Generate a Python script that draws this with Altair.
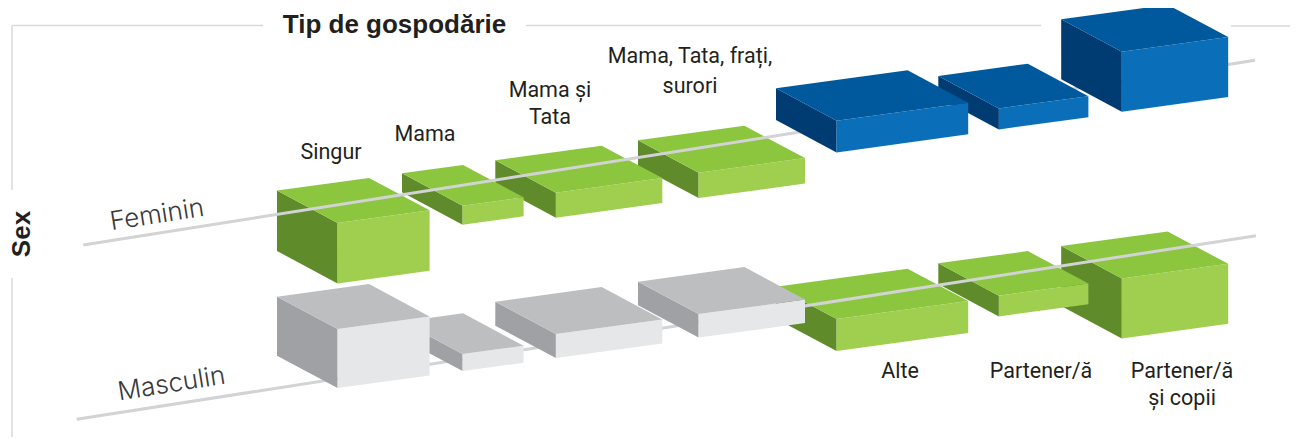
import altair as alt
import pandas as pd

W, H = 1290, 439
categories = ["Singur", "Mama", "Mama și Tata", "Mama, Tata, frați, surori", "Alte", "Partener/ă", "Partener/ă și copii"]
box_x = [277, 402, 495.3, 638, 776, 938.3, 1061.2]
box_w = [92, 61, 106.4, 106.4, 131.6, 89.5, 106.4]
fem_y = [190.5, 173.3, 160.3, 140.3, 88.3, 76, 19.3]
fem_h = [60.5, 19, 25, 25.4, 31.7, 21, 60]
mas_y = [296.7, 321.7, 301.7, 281.7, 286.7, 263.3, 246]
mas_h = [59, 17, 24, 23.5, 32, 20.7, 60]
fem_color = ["green"] * 4 + ["blue"] * 3
mas_color = ["gray"] * 4 + ["green"] * 3
DEPTH_X, DEPTH_Y, SLOPE = 60.6, 32.4, -0.137

palette = {
    "green": {"top": "#8cc63f", "left": "#5f8b2b", "right": "#a0cf50"},
    "blue": {"top": "#00599c", "left": "#003b71", "right": "#0a6fb8"},
    "gray": {"top": "#bcbec0", "left": "#9fa1a4", "right": "#e6e7e8"},
}


def faces(sex, i, x, y, w, h, scheme):
    bx, by = x + w, y + w * SLOPE
    fx, fy = x + DEPTH_X, y + DEPTH_Y
    rx, ry = bx + DEPTH_X, by + DEPTH_Y
    polys = {
        "left": [(x, y), (fx, fy), (fx, fy + h), (x, y + h)],
        "right": [(fx, fy), (rx, ry), (rx, ry + h), (fx, fy + h)],
        "top": [(x, y), (bx, by), (rx, ry), (fx, fy)],
    }
    rows = []
    for face, pts in polys.items():
        for k, (px, py) in enumerate(pts + pts[:1]):
            rows.append({"poly": f"{sex}-{i}-{face}", "k": k, "x": px, "y": py,
                         "fill": palette[scheme][face], "scheme": scheme})
    return rows


def boxes(sex, ys, hs, colors, scheme):
    rows = []
    for i in reversed(range(len(categories))):
        if colors[i] == scheme:
            rows += faces(sex, i, box_x[i], ys[i], box_w[i], hs[i], scheme)
    return pd.DataFrame(rows)


xs = alt.X("x:Q", scale=alt.Scale(domain=[8, W], nice=False, zero=False), axis=None)
ys = alt.Y("y:Q", scale=alt.Scale(domain=[8, H], nice=False, zero=False, reverse=True), axis=None)


def poly_layer(df):
    return alt.Chart(df).mark_line(strokeWidth=0, clip=False, interpolate="linear").encode(
        x=xs, y=ys, order="k:Q", detail="poly:N",
        fill=alt.Fill("fill:N", scale=None),
    )


def rule_layer(df, color, width):
    return alt.Chart(df).mark_line(stroke=color, strokeWidth=width, clip=False, strokeCap="butt").encode(
        x=xs, y=ys, detail="id:N", order="k:Q")


def seg(pairs):
    rows = []
    for n, (a, b) in enumerate(pairs):
        rows.append({"id": n, "k": 0, "x": a[0], "y": a[1]})
        rows.append({"id": n, "k": 1, "x": b[0], "y": b[1]})
    return pd.DataFrame(rows)


frame_segments = [((12, 25.5), (263, 25.5)), ((526, 25.5), (1041, 25.5)), ((1231, 26), (1290, 26)),
                  ((12, 25.5), (12, 190)), ((12, 278), (12, 437))]
fem_axis = [((83.3, 245), (1255, 60.3))]
mas_axis = [((76.7, 419.3), (1256, 235.7))]

label_text = ["Singur", "Mama", "Mama și", "Tata", "Mama, Tata, frați,", "surori", "Alte", "Partener/ă", "Partener/ă", "și copii"]
label_x = [331, 425, 550, 550, 690, 690, 900, 1041, 1182, 1182]
label_y = [153, 135, 91, 118, 57, 87, 372, 372, 372, 399]

labels = alt.Chart(pd.DataFrame({"t": label_text, "x": label_x, "y": label_y})).mark_text(
    font="Roboto", fontSize=21.5, color="#231f20", align="center", baseline="middle", clip=False
).encode(x=xs, y=ys, text="t:N")

title = alt.Chart(pd.DataFrame({"t": ["Tip de gospodărie"], "x": [394.5], "y": [25]})).mark_text(
    font="Liberation Sans", fontWeight="bold", fontSize=26, color="#231f20", baseline="middle"
).encode(x=xs, y=ys, text="t:N")
sex_title = alt.Chart(pd.DataFrame({"t": ["Sex"], "x": [22], "y": [234]})).mark_text(
    font="Liberation Sans", fontWeight="bold", fontSize=26, color="#231f20", baseline="middle", angle=270
).encode(x=xs, y=ys, text="t:N")
sex_text = alt.Chart(pd.DataFrame({"t": ["Feminin", "Masculin"], "x": [157, 171.5], "y": [215, 384]})).mark_text(
    font="Inter", fontWeight=300, fontSize=26, color="#3a3a3c", baseline="middle", angle=351
).encode(x=xs, y=ys, text="t:N")

chart = alt.layer(
    rule_layer(seg(frame_segments), "#d8d9da", 1.5),
    poly_layer(boxes("M", mas_y, mas_h, mas_color, "green")),
    rule_layer(seg(mas_axis), "#d1d3d4", 3),
    poly_layer(boxes("M", mas_y, mas_h, mas_color, "gray")),
    poly_layer(boxes("F", fem_y, fem_h, fem_color, "green")),
    rule_layer(seg(fem_axis), "#d1d3d4", 3),
    poly_layer(boxes("F", fem_y, fem_h, fem_color, "blue")),
    labels, title, sex_title, sex_text,
).properties(
    width=W - 8, height=H - 8, padding=0, autosize="none",
).configure_view(stroke=None)

chart.save("out.html", embed_options={"renderer": "svg", "actions": False})
